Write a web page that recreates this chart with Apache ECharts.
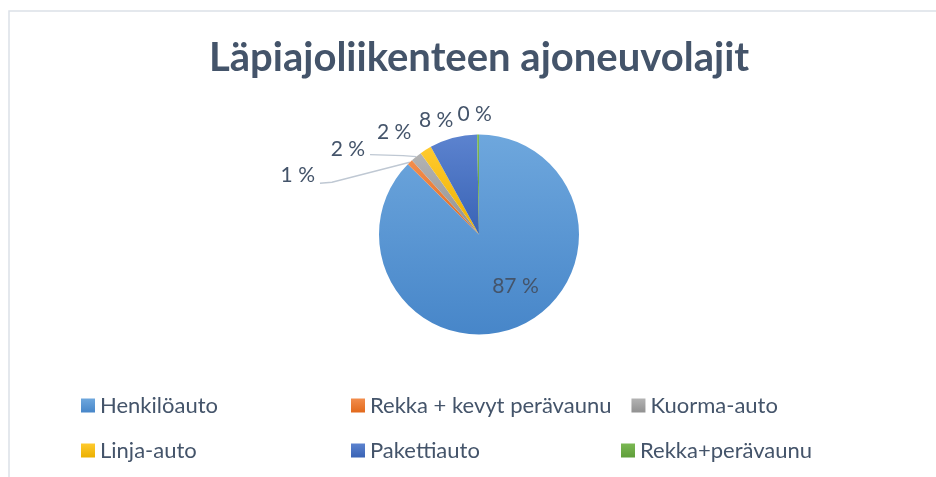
<!DOCTYPE html>
<html><head><meta charset="utf-8">
<script src="https://cdn.jsdelivr.net/npm/echarts@6/dist/echarts.min.js"></script>
<style>html,body{margin:0;padding:0;background:#fff}#c{width:936px;height:477px}</style>
</head><body><div id="c"></div>
<script>
// ---- data ----
const chartTitle = 'Läpiajoliikenteen ajoneuvolajit';
const categories = ['Henkilöauto', 'Rekka + kevyt perävaunu', 'Kuorma-auto', 'Linja-auto', 'Pakettiauto', 'Rekka+perävaunu'];
const shares = [87.4, 0.9, 1.8, 1.9, 7.7, 0.3];

// ---- styles ----
const gradTop = ['#6EA7DD', '#F28D4C', '#B3B3B3', '#FFCA2E', '#5C83CF', '#7BB853'];
const gradBottom = ['#4786C9', '#E2691C', '#919191', '#EBB000', '#3963B5', '#5F9E3A'];
const labelPos = ['inside', 'outside', 'outside', 'outside', 'outside', 'outside'];
const lineLen = [0, 0, 0, 21.2, 18.5, 19.5];
const lineLen2 = [0, 89.9, 46.2, 0, 0, 0];
const lineShow = [false, true, true, false, false, false];
const labelShift = [[16, 3], [0, 13], [0, -7], [2, 0], [10, 0], [19, -1]];
const guideBend = [null, [12, 20, 21], [33, -1, -2], null, null, null];
const textColor = '#44546A';
const fontFamily = 'Lato, "Open Sans", sans-serif';

const chart = echarts.init(document.getElementById('c'));
const seriesData = categories.map((name, i) => ({
  name: name,
  value: shares[i],
  itemStyle: {
    color: new echarts.graphic.LinearGradient(0, 0, 0, 1, [
      { offset: 0, color: gradTop[i] },
      { offset: 1, color: gradBottom[i] }
    ])
  },
  label: { position: labelPos[i] },
  labelLine: { show: lineShow[i], length: lineLen[i], length2: lineLen2[i] }
}));

chart.setOption({
  animation: false,
  backgroundColor: '#ffffff',
  title: {
    text: chartTitle,
    left: 204,
    top: 33,
    padding: 5,
    textStyle: { color: textColor, fontSize: 40, fontWeight: 'bold', fontFamily: fontFamily }
  },
  legend: {
    left: 81,
    top: 393,
    width: 820,
    itemWidth: 14,
    itemHeight: 14,
    itemGap: 20,
    icon: 'rect',
    padding: 0,
    textStyle: { color: textColor, fontSize: 22, fontFamily: fontFamily, width: 231, lineHeight: 25 },
    data: categories
  },
  graphic: [{
    type: 'rect',
    shape: { x: 9, y: 11, width: 1000, height: 1000 },
    style: { fill: 'none', stroke: '#DCE1E8', lineWidth: 1.5 },
    silent: true,
    z: -1
  }],
  series: [{
    type: 'pie',
    center: [479, 234.5],
    radius: 100,
    startAngle: 90,
    clockwise: true,
    avoidLabelOverlap: false,
    label: {
      show: true,
      color: textColor,
      fontSize: 21,
      fontFamily: fontFamily,
      formatter: p => Math.round(p.value) + ' %'
    },
    labelLine: { lineStyle: { color: '#BFC8D3', width: 1.3 }, smooth: false },
    labelLayout: function (p) {
      const i = p.dataIndex;
      const s = labelShift[i];
      const out = { dx: s[0], dy: s[1] };
      const g = guideBend[i];
      const pts = p.labelLinePoints;
      if (g && pts && pts.length >= 2) {
        const p1 = pts[0], p3 = pts[pts.length - 1];
        out.labelLinePoints = [p1, [p3[0] + g[0], p3[1] + g[1]], [p3[0], p3[1] + g[2]]];
      }
      return out;
    },
    emphasis: { disabled: true },
    data: seriesData
  }]
});
</script>
</body></html>
